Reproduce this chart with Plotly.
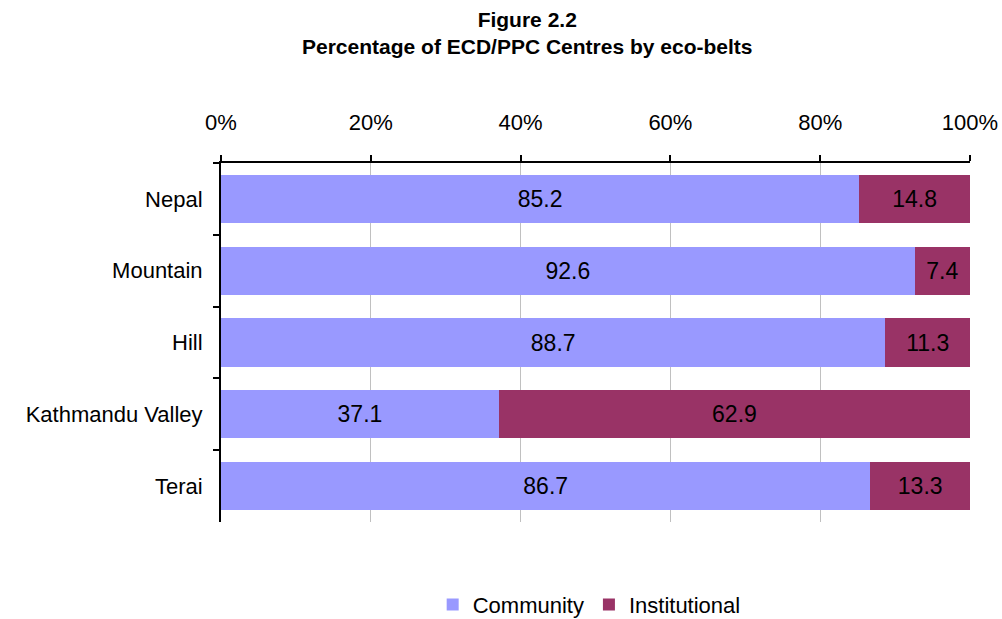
import plotly.graph_objects as go

belts = ["Nepal", "Mountain", "Hill", "Kathmandu Valley", "Terai"]
community = [85.2, 92.6, 88.7, 37.1, 86.7]
institutional = [14.8, 7.4, 11.3, 62.9, 13.3]

FONT = "Liberation Sans Narrow, Arial Narrow, Liberation Sans, Arial, sans-serif"

fig = go.Figure()
fig.add_trace(go.Bar(
    y=belts, x=community, name="Community", orientation="h",
    marker=dict(color="#9999ff", line=dict(width=0)),
    text=[f"{v:.1f}" for v in community], textposition="inside",
    insidetextanchor="middle", constraintext="none",
    textfont=dict(color="black", size=23),
))
fig.add_trace(go.Bar(
    y=belts, x=institutional, name="Institutional", orientation="h",
    marker=dict(color="#993366", line=dict(width=0)),
    text=[f"{v:.1f}" for v in institutional], textposition="inside",
    insidetextanchor="middle", constraintext="none",
    textfont=dict(color="black", size=23),
))

fig.update_layout(
    barmode="stack",
    bargap=0.33,
    width=1002, height=619,
    margin=dict(l=221, r=32, t=163, b=97, autoexpand=False),
    paper_bgcolor="white", plot_bgcolor="white",
    font=dict(family=FONT, color="black", size=22),
    xaxis=dict(
        side="top", range=[0, 100], dtick=20, ticksuffix="%",
        showgrid=True, gridcolor="#c0c0c0", gridwidth=1,
        showline=True, linecolor="black", linewidth=2,
        ticks="outside", ticklen=6, tickcolor="black", tickwidth=2,
        ticklabelstandoff=16, tickfont=dict(size=22),
        zeroline=False, automargin=False,
    ),
    yaxis=dict(
        autorange="reversed", type="category",
        showline=True, linecolor="black", linewidth=2,
        ticks="outside", tickson="boundaries", ticklen=6, tickcolor="black", tickwidth=2,
        ticklabelstandoff=12, tickfont=dict(size=22),
        showgrid=False, automargin=False,
    ),
    legend=dict(
        orientation="h", x=0.588, xanchor="center", xref="container",
        y=0.023, yanchor="middle", yref="container",
        font=dict(size=22), traceorder="normal",
    ),
    uniformtext=dict(minsize=10, mode="show"),
    annotations=[dict(
        text="<b>Figure 2.2<br>Percentage of ECD/PPC Centres by eco-belts</b>",
        xref="paper", yref="paper", x=0.409, y=1.362,
        xanchor="center", yanchor="middle", showarrow=False,
        font=dict(size=21, family=FONT), align="center",
    )],
)

# page body has a default 8px margin; drop it so the figure sits at 0,0
fig.write_html("out.html", config={"displayModeBar": False},
               post_script="document.body.style.margin='0';")
